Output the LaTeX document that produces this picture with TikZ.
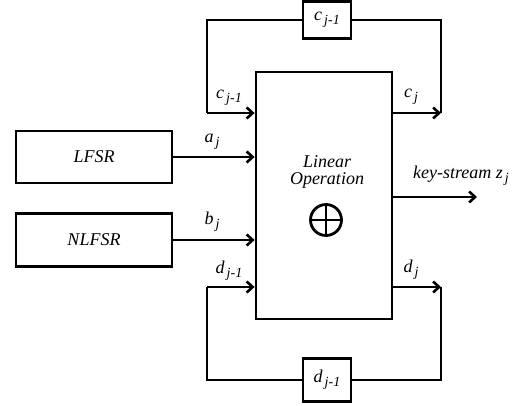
\documentclass[tikz,border=0pt]{standalone}
\usepackage{fontspec}
\setmainfont{Liberation Serif}
\usetikzlibrary{arrows.meta}
% italic letter with a lowered italic index
\newcommand{\idx}[2]{{\itshape #1}\kern2pt\raisebox{-4pt}{\fontsize{14}{15}\selectfont\itshape #2}}
\begin{document}
\begin{tikzpicture}[x=1pt,y=-1pt,
  blk/.style={draw,line width=2.8pt,rectangle,inner sep=0pt,
    font=\fontsize{18}{20}\selectfont\itshape},
  wire/.style={line width=2.8pt,line join=miter},
  arr/.style={wire,-{Straight Barb[length=6pt,width=11pt,line width=2.6pt]}},
  lbl/.style={inner sep=0pt,font=\fontsize{18}{20}\selectfont}]
\useasboundingbox (0,0) rectangle (521,406);

% main block
\node[blk,minimum width=136,minimum height=247] (op) at (324,195.5) {};
\node[lbl,align=center] (optxt) at (327,172) {\itshape Linear\\[-3pt]\itshape Operation};
\node[minimum size=32,inner sep=0pt] (xor) at (326,220) {};
\draw[line width=2.8pt] (xor) circle (15.5);
\draw[line width=2.8pt] (xor.west) -- (xor.east) (xor.north) -- (xor.south);

% register blocks
\node[blk,minimum width=156,minimum height=52] (lfsr) at (94,157) {LFSR};
\node[blk,minimum width=156,minimum height=53] (nlfsr) at (94,240) {NLFSR};

% delay blocks
\node[blk,minimum width=48,minimum height=37] (cbox) at (327,20) {};
\node[lbl] at (cbox) {\idx{c}{j-1}};
\node[blk,minimum width=48,minimum height=43] (dbox) at (327,380) {};
\node[lbl] at (dbox) {\idx{d}{j-1}};

% corner points of the feedback loops
\coordinate (cl) at (207,113);
\coordinate (cr) at (441,113);
\coordinate (dl) at (207,287);
\coordinate (dr) at (441,287);
\coordinate (zout) at (477,197);

% inputs
\draw[arr] (lfsr.east) -- (op.west |- lfsr.east);
\draw[arr] (nlfsr.east) -- (op.west |- nlfsr.east);
\node[lbl] at (212,142) {\idx{a}{j}};
\node[lbl] at (212,222) {\idx{b}{j}};

% c feedback loop
\draw[wire] (cbox.west) -| (cl);
\draw[arr] (cl) -- (op.west |- cl);
\draw[arr] (op.east |- cr) -- (cr);
\draw[wire] (cr) |- (cbox.east);
\node[lbl] at (229,98) {\idx{c}{j-1}};
\node[lbl] at (411,97) {\idx{c}{j}};

% d feedback loop
\draw[wire] (dbox.west) -| (dl);
\draw[arr] (dl) -- (op.west |- dl);
\draw[arr] (op.east |- dr) -- (dr);
\draw[wire] (dr) |- (dbox.east);
\node[lbl] at (229,271) {\idx{d}{j-1}};
\node[lbl] at (411,270) {\idx{d}{j}};

% output
\draw[arr] (op.east |- zout) -- (zout);
\node[lbl] at (461,176) {\itshape key-stream \idx{z}{j}};
\end{tikzpicture}
\end{document}
